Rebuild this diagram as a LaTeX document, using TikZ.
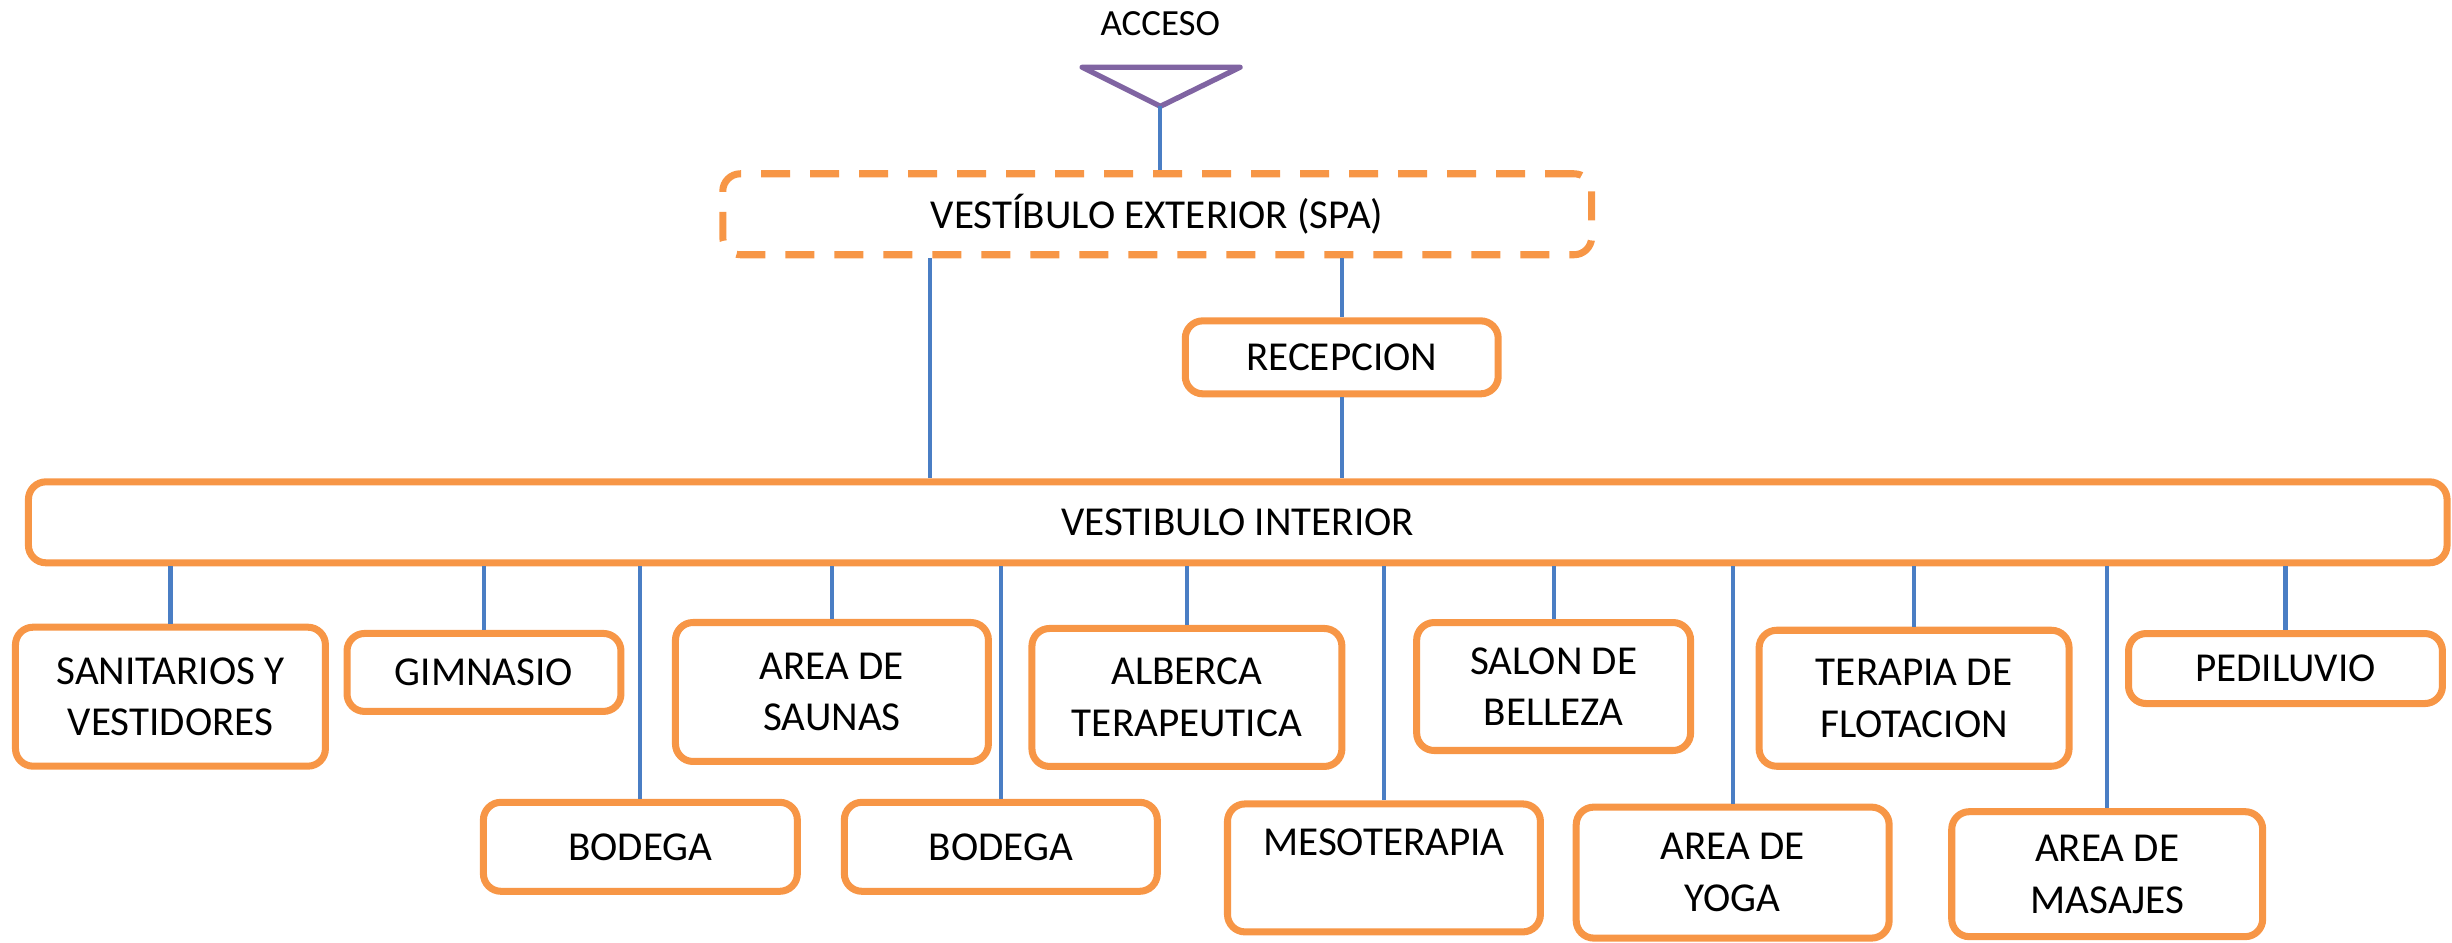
\documentclass[tikz,border=0pt]{standalone}
\usepackage{fontspec}
\setmainfont{Carlito}
\usepackage{xcolor}
\usepackage{tikz}
\usetikzlibrary{positioning,calc}
\definecolor{boxorange}{RGB}{247,150,70}
\definecolor{lineblue}{RGB}{74,126,196}
\definecolor{accpurple}{RGB}{128,100,162}

\begin{document}
\begin{tikzpicture}[
  x=0.015638cm, y=-0.015638cm,
  box/.style={rectangle, rounded corners=5pt, draw=boxorange, line width=2pt, fill=white,
              align=center, inner sep=2pt, font=\fontsize{11.7}{14.7}\selectfont},
  dashbox/.style={box, dash pattern=on 0.29cm off 0.2cm},
  link/.style={draw=lineblue, line width=1.2pt},
  acc/.style={draw=accpurple, line width=1.5pt, line join=round}
]
\useasboundingbox (0,0) rectangle (1568,603);

\node[font=\fontsize{10.5}{12}\selectfont] (acceso) at (742,15) {ACCESO};
\coordinate (apex) at (742,68);
\draw[acc] (692,43) -- (793,43) -- (apex) -- cycle;

\node[dashbox, minimum width=8.69cm, minimum height=0.81cm] (ext) at (740,137) {VESTÍBULO EXTERIOR (SPA)};
\node[box, minimum width=3.13cm, minimum height=0.73cm] (rec) at (858,228.5) {RECEPCION};
\node[box, minimum width=24.19cm, minimum height=0.81cm] (int) at (791.5,334) {VESTIBULO INTERIOR};

% upper row
\node[box, minimum width=3.10cm, minimum height=1.39cm] (san) at (109,445.5) {SANITARIOS Y\\VESTIDORES};
\node[box, minimum width=2.74cm, minimum height=0.78cm] (gim) at (309.5,430) {GIMNASIO};
\node[box, minimum width=3.13cm, minimum height=1.39cm] (sau) at (532,442.5) {AREA DE\\SAUNAS};
\node[box, minimum width=3.10cm, minimum height=1.38cm] (alb) at (759,446) {ALBERCA\\TERAPEUTICA};
\node[box, minimum width=2.74cm, minimum height=1.28cm] (sal) at (993.5,439) {SALON DE\\BELLEZA};
\node[box, minimum width=3.10cm, minimum height=1.36cm] (flo) at (1224,446.5) {TERAPIA DE\\FLOTACION};
\node[box, minimum width=3.14cm, minimum height=0.70cm] (ped) at (1461.5,427.5) {PEDILUVIO};

% lower row
\node[box, minimum width=3.14cm, minimum height=0.89cm] (bod1) at (409.5,541.5) {BODEGA};
\node[box, minimum width=3.13cm, minimum height=0.89cm] (bod2) at (640,541.5) {BODEGA};
\node[box, minimum width=3.13cm, minimum height=1.28cm] (mes) at (885,555) {MESOTERAPIA\\~};
\node[box, minimum width=3.13cm, minimum height=1.31cm] (yog) at (1108,558) {AREA DE\\YOGA};
\node[box, minimum width=3.11cm, minimum height=1.25cm] (mas) at (1347.5,559) {AREA DE\\MASAJES};

\draw[link] (apex) -- (apex |- ext.north);
\draw[link] ([xshift=-2.27cm]ext.south) -- ([xshift=-2.27cm]ext.south |- int.north);
\draw[link] (rec.north |- ext.south) -- (rec.north);
\draw[link] (rec.south) -- (rec.south |- int.north);
\foreach \n in {san,gim,sau,alb,sal,flo,ped,bod1,bod2,mes,yog,mas}
  \draw[link] (int.south -| \n.north) -- (\n.north);

\end{tikzpicture}
\end{document}
